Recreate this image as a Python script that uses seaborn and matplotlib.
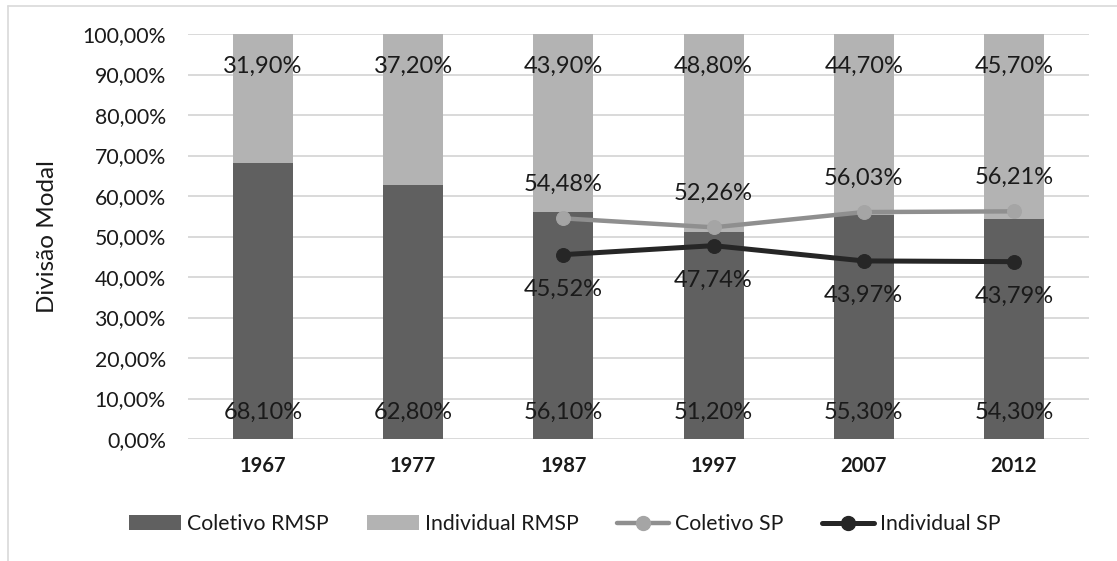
import matplotlib
matplotlib.use("Agg")
import matplotlib.pyplot as plt
from matplotlib.lines import Line2D
from matplotlib.patches import Patch
import seaborn as sns
import pandas as pd

# Modal split data (percent)
years = ["1967", "1977", "1987", "1997", "2007", "2012"]
coletivo_rmsp = [68.10, 62.80, 56.10, 51.20, 55.30, 54.30]
individual_rmsp = [31.90, 37.20, 43.90, 48.80, 44.70, 45.70]
sp_years = ["1987", "1997", "2007", "2012"]
coletivo_sp = [54.48, 52.26, 56.03, 56.21]
individual_sp = [45.52, 47.74, 43.97, 43.79]

C_DARK = "#606060"
C_LIGHT = "#b3b3b3"
C_COL_SP = "#8f8f8f"
C_COL_SP_MK = "#a5a5a5"
C_IND_SP = "#262626"
C_GRID = "#d9d9d9"
C_TEXT = "#1a1a1a"

sns.set_theme(style="white")
plt.rcParams["font.family"] = ["Lato", "DejaVu Sans"]

def pct(v):
    return f"{v:.2f}%".replace(".", ",")

df = pd.DataFrame({"ano": years,
                   "coletivo": [c / 100 for c in coletivo_rmsp],
                   "total": [(c + i) / 100 for c, i in zip(coletivo_rmsp, individual_rmsp)]})

W, H = 1117, 561
fig = plt.figure(figsize=(W / 100, H / 100), dpi=100)
ax = fig.add_axes([188 / W, 1 - 439 / H, 901 / W, 405 / H])

# stacked bars: full stack in light grey, collective share on top in dark grey
sns.barplot(data=df, x="ano", y="total", color=C_LIGHT, width=0.4, saturation=1,
            ax=ax, zorder=2, edgecolor="none")
sns.barplot(data=df, x="ano", y="coletivo", color=C_DARK, width=0.4, saturation=1,
            ax=ax, zorder=3, edgecolor="none")

pos = {y: i for i, y in enumerate(years)}
sp_x = [pos[y] for y in sp_years]
sns.lineplot(x=sp_x, y=[v / 100 for v in coletivo_sp], ax=ax, color=C_COL_SP, lw=3.2,
             marker="o", markersize=10, markerfacecolor=C_COL_SP_MK,
             markeredgecolor=C_COL_SP_MK, zorder=5)
sns.lineplot(x=sp_x, y=[v / 100 for v in individual_sp], ax=ax, color=C_IND_SP, lw=3.6,
             marker="o", markersize=10, markerfacecolor=C_IND_SP,
             markeredgecolor=C_IND_SP, zorder=5)

lab_fs = 17
for i, (c, ind) in enumerate(zip(coletivo_rmsp, individual_rmsp)):
    ax.annotate(pct(c), (i, 0), xytext=(0, 19.5), textcoords="offset points",
                ha="center", va="center", fontsize=lab_fs, color=C_TEXT, zorder=6)
    ax.annotate(pct(ind), (i, (c + ind) / 100), xytext=(0, -23), textcoords="offset points",
                ha="center", va="center", fontsize=lab_fs, color=C_TEXT, zorder=6)
for x, c, ind in zip(sp_x, coletivo_sp, individual_sp):
    ax.annotate(pct(c), (x, c / 100), xytext=(0, 24.5), textcoords="offset points",
                ha="center", va="center", fontsize=lab_fs, color=C_TEXT, zorder=6)
    ax.annotate(pct(ind), (x, ind / 100), xytext=(0, -25), textcoords="offset points",
                ha="center", va="center", fontsize=lab_fs, color=C_TEXT, zorder=6)

ax.set_xlim(-0.5, 5.5)
ax.set_ylim(0, 1)
ticks = [i / 10 for i in range(11)]
ax.set_yticks(ticks)
ax.set_yticklabels([pct(t * 100) for t in ticks], fontsize=15.3, color=C_TEXT)
ax.set_xticks(range(len(years)))
ax.set_xticklabels(years, fontsize=14.5, fontweight="bold", color=C_TEXT)
ax.tick_params(axis="both", length=0)
ax.tick_params(axis="x", pad=12)
ax.tick_params(axis="y", pad=16)
ax.grid(axis="y", color=C_GRID, lw=1.4, zorder=0)
ax.set_axisbelow(True)
for s in ax.spines.values():
    s.set_visible(False)
ax.set_xlabel("")
ax.set_ylabel("Divisão Modal", fontsize=17.5, color=C_TEXT)
ax.yaxis.set_label_coords((58 - 188) / 901, 0.5)

handles = [
    Patch(facecolor=C_DARK, edgecolor="none", label="Coletivo RMSP"),
    Patch(facecolor=C_LIGHT, edgecolor="none", label="Individual RMSP"),
    Line2D([], [], color=C_COL_SP, lw=3.2, marker="o", markersize=10,
           markerfacecolor=C_COL_SP_MK, markeredgecolor=C_COL_SP_MK, label="Coletivo SP"),
    Line2D([], [], color=C_IND_SP, lw=3.6, marker="o", markersize=10,
           markerfacecolor=C_IND_SP, markeredgecolor=C_IND_SP, label="Individual SP"),
]
fig.legend(handles=handles, loc="center left", bbox_to_anchor=(129 / W, 1 - 524 / H),
           ncol=4, frameon=False, fontsize=15.3, handlelength=2.45, handleheight=0.66,
           handletextpad=0.28, columnspacing=1.8, borderpad=0, borderaxespad=0,
           labelcolor=C_TEXT)

# chart-area border
fig.add_artist(Line2D([7.5 / W, 7.5 / W], [0, 1 - 5.5 / H], color=C_GRID, lw=1.2))
fig.add_artist(Line2D([7.5 / W, 1], [1 - 5.5 / H, 1 - 5.5 / H], color=C_GRID, lw=1.2))

fig.savefig("out.png", dpi=100)
